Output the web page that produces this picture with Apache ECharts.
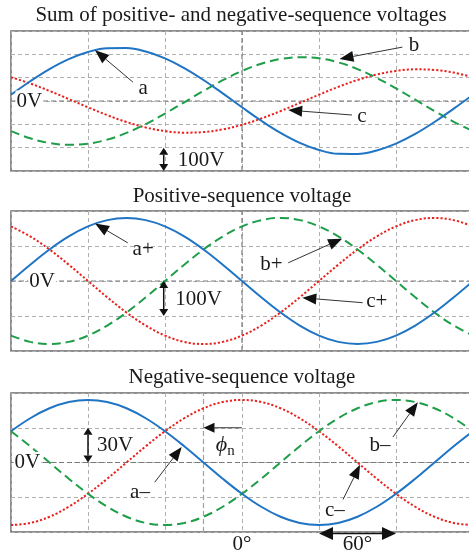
<!DOCTYPE html>
<html><head><meta charset="utf-8">
<script src="https://cdn.jsdelivr.net/npm/echarts@6/dist/echarts.min.js"></script>
<style>html,body{margin:0;padding:0;background:#fff;overflow:hidden}#c{width:469px;height:552px}</style>
</head><body><div id="c"></div>
<script>
// ---- data (degrees / volts) ----
const angles = [-180,-165,-150,-135,-120,-105,-90,-75,-60,-45,-30,-15,0,15,30,45,60,75,90,105,120,135,150,165,180];
const sumA = [27,84.8,136.8,179.5,209.9,226.1,226.8,212.1,182.9,141.3,90,32.6,-27,-84.8,-136.8,-179.5,-209.9,-226.1,-226.8,-212.1,-182.9,-141.3,-90,-32.6,27];
const sumB = [-128.9,-159.9,-180,-187.9,-182.9,-165.5,-136.8,-98.8,-54,-5.6,43.2,89.1,128.9,159.9,180,187.9,182.9,165.5,136.8,98.8,54,5.6,-43.2,-89.1,-128.9];
const sumC = [101.9,75.1,43.2,8.4,-27,-60.6,-90,-113.3,-128.9,-135.7,-133.2,-121.7,-101.9,-75.1,-43.2,-8.4,27,60.6,90,113.3,128.9,135.7,133.2,121.7,101.9];
const posA = [0,46.6,90,127.3,155.9,173.9,180,173.9,155.9,127.3,90,46.6,0,-46.6,-90,-127.3,-155.9,-173.9,-180,-173.9,-155.9,-127.3,-90,-46.6,0];
const posB = [-155.9,-173.9,-180,-173.9,-155.9,-127.3,-90,-46.6,0,46.6,90,127.3,155.9,173.9,180,173.9,155.9,127.3,90,46.6,0,-46.6,-90,-127.3,-155.9];
const posC = [155.9,127.3,90,46.6,0,-46.6,-90,-127.3,-155.9,-173.9,-180,-173.9,-155.9,-127.3,-90,-46.6,0,46.6,90,127.3,155.9,173.9,180,173.9,155.9];
const negA = [27,38.2,46.8,52.2,54,52.2,46.8,38.2,27,14,0,-14,-27,-38.2,-46.8,-52.2,-54,-52.2,-46.8,-38.2,-27,-14,0,14,27];
const negB = [27,14,0,-14,-27,-38.2,-46.8,-52.2,-54,-52.2,-46.8,-38.2,-27,-14,0,14,27,38.2,46.8,52.2,54,52.2,46.8,38.2,27];
const negC = [-54,-52.2,-46.8,-38.2,-27,-14,0,14,27,38.2,46.8,52.2,54,52.2,46.8,38.2,27,14,0,-14,-27,-38.2,-46.8,-52.2,-54];
const titles = ['Sum of positive- and negative-sequence voltages','Positive-sequence voltage','Negative-sequence voltage'];
const yMin = [-300,-200,-60], yMax = [300,200,60], yStep = [100,100,30];
const panelSeries = [[sumC,sumB,sumA],[posC,posB,posA],[negC,negB,negA]];

// ---- styles ----
const FONT = '"Liberation Serif","Times New Roman",serif';
const COLORS = ['#e8221e','#1e9e48','#1f74c4'];
const LTYPES = [[2.2,2],[9,5],'solid'];
const grids = [
  {left:11,width:462,top:31,height:140},
  {left:11,width:462,top:211,height:140},
  {left:11,width:462,top:393,height:139}
];

const chart = echarts.init(document.getElementById('c'));
const series = [];
panelSeries.forEach((arrs,g)=>{
  arrs.forEach((arr,k)=>{
    series.push({type:'line',xAxisIndex:g,yAxisIndex:g,smooth:0.4,showSymbol:false,silent:true,
      data:angles.map((t,i)=>[t,arr[i]]),
      lineStyle:{color:COLORS[k],width:2,type:LTYPES[k]},z:3+k});
  });
});
chart.setOption({
  animation:false,
  grid:grids.map(g=>Object.assign({show:true,borderColor:'#6a6a6a',borderWidth:1.5,outerBoundsMode:'none',containLabel:false},g)),
  xAxis:grids.map((g,i)=>({type:'value',gridIndex:i,min:-180,max:180,interval:60,
    axisLabel:{show:false},axisTick:{show:false},axisLine:{show:false},
    splitLine:{show:true,lineStyle:{color:'#b0b0b0',width:1,type:[4,3]}}})),
  yAxis:grids.map((g,i)=>({type:'value',gridIndex:i,min:yMin[i],max:yMax[i],interval:yStep[i],
    axisLabel:{show:false},axisTick:{show:false},axisLine:{show:false},
    splitLine:{show:true,lineStyle:{color:'#b0b0b0',width:1,type:[4,3]}}})),
  series
});

const P = (g,x,y)=>chart.convertToPixel({gridIndex:g},[x,y]);
const els = [];
function txt(x,y,s,size,align,extra){
  els.push(Object.assign({type:'text',z:120,silent:true,style:{text:s,x:x,y:y,font:(size||21)+'px '+FONT,
    fill:'#1a1a1a',align:align||'center',verticalAlign:'middle',textAlign:align||'center',textVerticalAlign:'middle'}},extra||{}));
}
function head(tip,from,L,W){
  const dx=tip[0]-from[0], dy=tip[1]-from[1], d=Math.hypot(dx,dy), ux=dx/d, uy=dy/d;
  const bx=tip[0]-ux*L, by=tip[1]-uy*L, nx=-uy*W/2, ny=ux*W/2;
  els.push({type:'polygon',z:121,silent:true,shape:{points:[[tip[0],tip[1]],[bx+nx,by+ny],[bx-nx,by-ny]]},style:{fill:'#111'}});
  return [bx,by];
}
function arrow(g,from,to,L,W){
  const a=P(g,from[0],from[1]), b=P(g,to[0],to[1]);
  const base=head(b,a,L||14,W||11);
  els.push({type:'line',z:120,silent:true,shape:{x1:a[0],y1:a[1],x2:base[0],y2:base[1]},style:{stroke:'#333',lineWidth:1}});
}
function darrow(g,from,to,L,W){
  const a=P(g,from[0],from[1]), b=P(g,to[0],to[1]);
  const b1=head(b,a,L||7,W||9), b2=head(a,b,L||7,W||9);
  els.push({type:'line',z:120,silent:true,shape:{x1:b2[0],y1:b2[1],x2:b1[0],y2:b1[1]},style:{stroke:'#111',lineWidth:1.5}});
}
function vline(g,x,y0,y1,col){
  const a=P(g,x,y0), b=P(g,x,y1);
  els.push({type:'line',z:2,silent:true,shape:{x1:a[0],y1:a[1],x2:b[0],y2:b[1]},style:{stroke:col,lineWidth:1.2,lineDash:[5,3]}});
}
function hline(g,y,col){
  const a=P(g,-180,y), b=P(g,180,y);
  els.push({type:'line',z:2,silent:true,shape:{x1:a[0],y1:a[1],x2:b[0],y2:b[1]},style:{stroke:col,lineWidth:1.2,lineDash:[5,3]}});
}

// titles
txt(241,15,titles[0],21);
txt(242,196,titles[1],21);
txt(242,377,titles[2],21);

// center reference lines
hline(0,0,'#7a7a7a'); vline(0,0,-300,300,'#7a7a7a');
hline(1,0,'#7a7a7a'); vline(1,0,-200,200,'#7a7a7a');
hline(2,0,'#7a7a7a'); vline(2,-30,-60,60,'#a0a0a0');

// "0V" labels
function zeroLabel(g,x){const p=P(g,x,0); txt(p[0],p[1],'0V',21,'left',{style:{text:'0V',x:p[0],y:p[1],font:'21px '+FONT,fill:'#1a1a1a',align:'left',verticalAlign:'middle',textAlign:'left',textVerticalAlign:'middle',backgroundColor:'#fff',padding:[0,1]}});}
zeroLabel(0,-176.5); zeroLabel(1,-166.5); zeroLabel(2,-178);

// panel 1 annotations
let p;
p=P(0,-77,55); txt(p[0],p[1],'a');
arrow(0,[-85,81],[-114.5,218]);
p=P(0,134,236); txt(p[0],p[1],'b');
arrow(0,[125,231],[76,180]);
p=P(0,93.5,-66); txt(p[0],p[1],'c');
arrow(0,[85.7,-60],[36,-39]);
darrow(0,[-61,-200],[-61,-300]);
p=P(0,-50,-257); txt(p[0],p[1],'100V',21,'left');

// panel 2 annotations
p=P(1,-77,89); txt(p[0],p[1],'a+');
arrow(1,[-89,109],[-114.5,164]);
p=P(1,23,47); txt(p[0],p[1],'b+');
arrow(1,[36,52],[78,121]);
p=P(1,105,-59); txt(p[0],p[1],'c+');
arrow(1,[94,-62],[47,-48]);
darrow(1,[-61,0],[-61,-100]);
p=P(1,-52,-53); txt(p[0],p[1],'100V',21,'left');

// panel 3 annotations
darrow(2,[-120,30],[-120,0]);
p=P(2,-113,15); txt(p[0],p[1],'30V',21,'left');
arrow(2,[0,30],[-30,30],11,10);
p=P(2,-16,15); txt(p[0],p[1],'\u03d5',22,'center',{style:{text:'\u03d5',x:p[0],y:p[1],font:'italic 22px '+FONT,fill:'#1a1a1a',align:'center',verticalAlign:'middle',textAlign:'center',textVerticalAlign:'middle'}});
p=P(2,-8.5,10); txt(p[0],p[1],'n',15);
p=P(2,-79.5,-25.5); txt(p[0],p[1],'a\u2013');
arrow(2,[-68,-17],[-47,13.4]);
p=P(2,107.5,15); txt(p[0],p[1],'b\u2013');
arrow(2,[117.6,22],[137,52]);
p=P(2,72.4,-41); txt(p[0],p[1],'c\u2013');
arrow(2,[78.7,-32],[92,-2]);
p=P(2,0,-70.5); txt(p[0],p[1],'0\u00b0');
p=P(2,90,-70.5); txt(p[0],p[1],'60\u00b0');
darrow(2,[60,-61.3],[120,-61.3],14,13);

chart.setOption({graphic:{elements:els}});
</script></body></html>
